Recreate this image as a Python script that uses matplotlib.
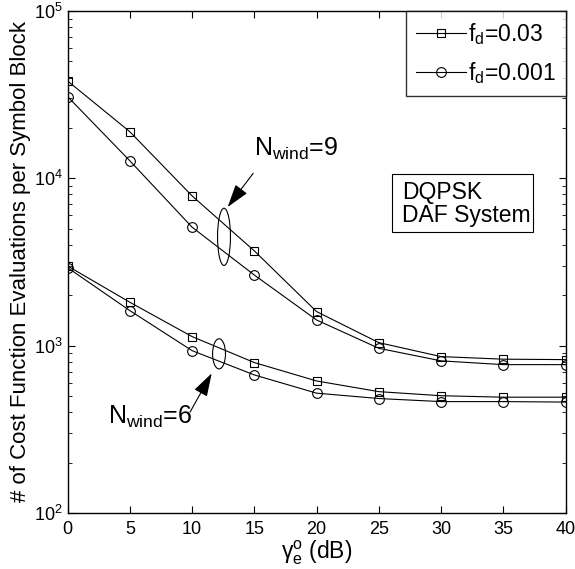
import matplotlib.pyplot as plt
from matplotlib.patches import Ellipse, Rectangle

plt.rcParams['font.family'] = ['Liberation Sans', 'DejaVu Sans']
plt.rcParams['mathtext.fontset'] = 'custom'
plt.rcParams['mathtext.rm'] = 'Liberation Sans'

# SNR points (dB)
snr = [0, 5, 10, 15, 20, 25, 30, 35, 40]

# N_wind = 9
n9_fd003 = [38100, 18950, 7840, 3680, 1597, 1042, 860, 830, 825]
n9_fd0001 = [30700, 12700, 5100, 2640, 1423, 964, 811, 770, 770]

# N_wind = 6
n6_fd003 = [2990, 1815, 1132, 792, 615, 531, 502, 492, 492]
n6_fd0001 = [2920, 1618, 933, 668, 520, 483, 463, 463, 460]

fig = plt.figure(figsize=(5.75, 5.69), dpi=100)
ax = fig.add_axes([67.7 / 575, 1 - 513 / 569, (565.5 - 67.7) / 575, (513 - 10.9) / 569])

line_kw = dict(color='black', linewidth=0.8, markerfacecolor='none',
               markeredgecolor='black', markeredgewidth=0.8)
l1, = ax.semilogy(snr, n9_fd003, marker='s', markersize=5.5, **line_kw)
l2, = ax.semilogy(snr, n9_fd0001, marker='o', markersize=7, **line_kw)
ax.semilogy(snr, n6_fd003, marker='s', markersize=5.5, **line_kw)
ax.semilogy(snr, n6_fd0001, marker='o', markersize=7, **line_kw)

ax.set_xlim(0, 40)
ax.set_ylim(1e2, 1e5)
ax.set_xticks(range(0, 41, 5))
ax.tick_params(which='both', direction='in', top=True, right=True, labelsize=13)
ax.tick_params(which='major', length=5)
ax.tick_params(which='minor', length=3)
ax.tick_params(axis='x', pad=6)
for s in ax.spines.values():
    s.set_linewidth(1.0)

ax.set_xlabel(r'$\mathregular{γ_e^o}$ (dB)', fontsize=16.5, labelpad=0)
ax.set_ylabel('# of Cost Function Evaluations per Symbol Block', fontsize=16, labelpad=2)

# legend
leg = ax.legend([l1, l2], [r'$\mathregular{f_d}$=0.03', r'$\mathregular{f_d}$=0.001'],
                loc='upper right', fontsize=16.5, frameon=True, fancybox=False,
                edgecolor='black', borderaxespad=0, handlelength=2.2,
                handletextpad=0.05, labelspacing=0.55, borderpad=0.45)
leg.get_frame().set_linewidth(1.0)

# annotations: N_wind=9
ax.add_patch(Ellipse((0.314, 0.550), width=0.026, height=0.114, transform=ax.transAxes,
                     fill=False, linewidth=0.8))
ax.annotate('', xy=(0.318, 0.605), xytext=(0.376, 0.681), xycoords='axes fraction',
            arrowprops=dict(arrowstyle='-|>,head_length=0.8,head_width=0.25',
                            color='black', linewidth=0.8, mutation_scale=18))
ax.text(0.374, 0.700, r'$\mathregular{N_{wind}}$=9', fontsize=18, va='bottom', ha='left',
        transform=ax.transAxes)

# annotations: N_wind=6
ax.add_patch(Ellipse((0.304, 0.317), width=0.026, height=0.060, transform=ax.transAxes,
                     fill=False, linewidth=0.8))
ax.annotate('', xy=(0.292, 0.283), xytext=(0.243, 0.196), xycoords='axes fraction',
            arrowprops=dict(arrowstyle='-|>,head_length=0.8,head_width=0.25',
                            color='black', linewidth=0.8, mutation_scale=18))
ax.text(0.081, 0.192, r'$\mathregular{N_{wind}}$=6', fontsize=18, va='center', ha='left',
        transform=ax.transAxes)

# DQPSK box
ax.add_patch(Rectangle((0.6507, 0.5602), 0.9347 - 0.6507, 0.6746 - 0.5602,
                       transform=ax.transAxes, facecolor='white', edgecolor='black',
                       linewidth=0.8, zorder=3))
ax.text(0.671, 0.6154, 'DQPSK\nDAF System', fontsize=16.5, va='center', ha='left',
        linespacing=1.0, transform=ax.transAxes, zorder=4)

fig.savefig('out.png', dpi=100, facecolor='white')
